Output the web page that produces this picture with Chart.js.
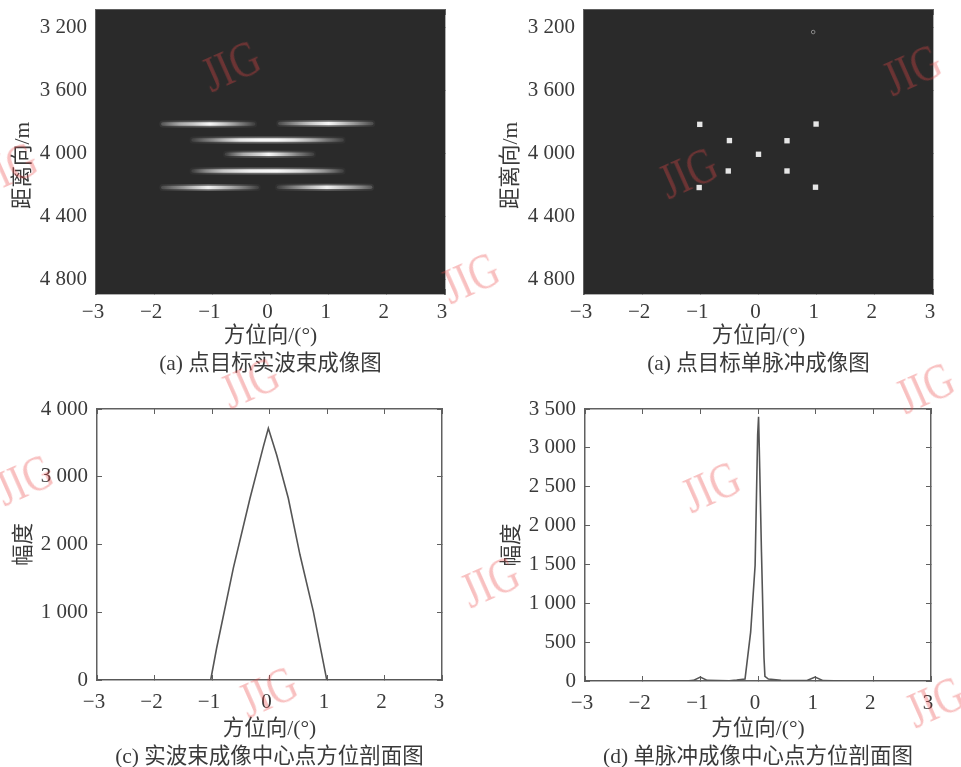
<!DOCTYPE html>
<html lang="zh">
<head>
<meta charset="utf-8">
<title>点目标成像图</title>
<script src="https://cdn.jsdelivr.net/npm/chart.js@4"></script>
<style>
html,body{margin:0;padding:0;background:#fff;width:961px;height:767px;overflow:hidden}
#page{position:relative;width:961px;height:767px;overflow:hidden;filter:blur(0.75px)}
canvas{position:absolute;display:block}
.wm{position:absolute;font:40px 'Liberation Serif',serif;color:rgba(235,70,70,.34);transform:translate(-50%,-50%) rotate(-24deg) scale(1,1.25);white-space:nowrap;line-height:1}
</style>
</head>
<body>
<div id="page">
<canvas id="a"></canvas><canvas id="b"></canvas><canvas id="c"></canvas><canvas id="d"></canvas>
</div>
<script>
// ---------- text ----------
const xTitle = '方位向/(°)';
const rangeTitle = '距离向/m     ';
const ampTitle = '幅度';
const captionA = '(a) 点目标实波束成像图';
const captionB = '(a) 点目标单脉冲成像图';
const captionC = '(c) 实波束成像中心点方位剖面图';
const captionD = '(d) 单脉冲成像中心点方位剖面图';
const watermarkText = 'JIG';

// ---------- ticks ----------
const azimuthTicks = [-3, -2, -1, 0, 1, 2, 3];
const rangeTicks = [3200, 3600, 4000, 4400, 4800];
const ampTicksC = [0, 1000, 2000, 3000, 4000];
const ampTicksD = [0, 500, 1000, 1500, 2000, 2500, 3000, 3500];

// ---------- panel (a): streaks, [azimuth], [relative brightness] ----------
const streak1LRange = 3815;
const streak1LX = [-1.85, -1.56, -1.33, -1.04, -0.75, -0.52, -0.29];
const streak1LV = [0.2, 0.55, 0.7, 1, 0.65, 0.35, 0.1];
const streak1RRange = 3812;
const streak1RX = [0.16, 0.45, 0.68, 1.0, 1.31, 1.54, 1.74];
const streak1RV = [0.15, 0.45, 0.7, 1, 0.6, 0.35, 0.15];
const streak2Range = 3917;
const streak2X = [-1.33, -0.985, -0.755, -0.52, -0.178, 0.11, 0.4, 0.68, 0.97, 1.23];
const streak2V = [0.1, 0.4, 0.65, 0.9, 1, 1, 0.85, 0.6, 0.3, 0.1];
const streak3Range = 4008;
const streak3X = [-0.755, -0.466, -0.178, -0.03, 0.23, 0.46, 0.72];
const streak3V = [0.1, 0.55, 0.8, 1, 0.65, 0.35, 0.1];
const streak4Range = 4114;
const streak4X = [-1.33, -1.1, -0.81, -0.35, 0.11, 0.51, 0.91, 1.23];
const streak4V = [0.1, 0.4, 0.7, 0.95, 1, 0.8, 0.45, 0.1];
const streak5LRange = 4219;
const streak5LX = [-1.85, -1.5, -1.07, -0.64, -0.23];
const streak5LV = [0.15, 0.45, 0.95, 0.5, 0.1];
const streak5RRange = 4217;
const streak5RX = [0.14, 0.51, 0.97, 1.38, 1.72];
const streak5RV = [0.1, 0.45, 0.95, 0.55, 0.2];

// ---------- panel (b): point targets ----------
const targetX = [-1.01, 0.99, -0.5, 0.49, 0, -0.52, 0.49, -1.02, 0.98];
const targetRange = [3818, 3816, 3921, 3922, 4008, 4114, 4114, 4219, 4217];
const ringX = [0.94];
const ringRange = [3232];

// ---------- panel (c): azimuth cut ----------
const cutCX = [-3, -2, -1.023, -0.919, -0.629, -0.339, -0.107, -0.02, 0.125, 0.327, 0.53, 0.762, 0.995, 2, 3];
const cutCY = [0, 0, 0, 472, 1651, 2683, 3445, 3715, 3322, 2683, 1848, 1012, 5, 0, 0];

// ---------- panel (d): azimuth cut ----------
const cutDX = [-3, -1.2, -1.12, -1.0, -0.88, -0.5, -0.37, -0.225, -0.127, -0.05, -0.006, 0.01, 0.03, 0.06, 0.104, 0.12, 0.18, 0.4, 0.85, 0.99, 1.13, 1.5, 3];
const cutDY = [0, 4, 8, 50, 8, 4, 12, 25, 631, 1490, 3165, 3401, 2735, 1662, 300, 60, 25, 9, 6, 50, 5, 0, 0];

// ---------- helpers ----------
const fontFamily = "'Liberation Serif','Noto Sans CJK SC',serif";
const inkColor = '#3a3a3a';
const axisColor = '#606060';
const darkBg = '#2a2a2a';

const zip = (xs, ys) => xs.map((x, i) => ({x, y: ys[i]}));
const fmt = v => {
  const a = Math.abs(v);
  const s = a >= 1000 ? Math.floor(a / 1000) + ' ' + String(a % 1000).padStart(3, '0') : String(a);
  return (v < 0 ? '\u2212' : '') + s;
};
const noOverhang = s => { s.paddingLeft = s.paddingRight = s.paddingTop = s.paddingBottom = 0; };

function axis(ticks, min, max, extra) {
  return Object.assign({
    type: 'linear', min, max,
    afterBuildTicks: s => { s.ticks = ticks.map(value => ({value})); },
    border: {display: true, color: axisColor, width: 1.5},
    grid: {drawOnChartArea: false, color: axisColor, lineWidth: 1, tickLength: -5}
  }, extra);
}

function panelOptions(cfg) {
  const mirrorTicks = {display: false};
  return {
    responsive: false,
    animation: false,
    events: [],
    layout: {autoPadding: false, padding: {left: 9, right: cfg.padRight, top: cfg.padTop, bottom: 0}},
    plugins: {legend: {display: false}, tooltip: {enabled: false}, title: {display: false}},
    scales: {
      x: axis(azimuthTicks, -3, 3, {
        position: 'bottom',
        afterFit: s => { s.height = cfg.xHeight; noOverhang(s); },
        ticks: {color: inkColor, autoSkip: false, maxRotation: 0, minRotation: 0, padding: cfg.xPad, labelOffset: -3,
                font: {family: fontFamily, size: 21}, callback: fmt},
        title: {display: true, text: [xTitle, cfg.caption], color: inkColor, padding: 0,
                font: {family: fontFamily, size: 21.5, lineHeight: 1.3}}
      }),
      x2: axis(azimuthTicks, -3, 3, {position: 'top', afterFit: s => { s.height = 0; noOverhang(s); }, ticks: mirrorTicks}),
      y: axis(cfg.yTicks, cfg.yMin, cfg.yMax, {
        position: 'left',
        reverse: cfg.reverse,
        afterFit: s => { s.width = 87; noOverhang(s); },
        ticks: {color: inkColor, autoSkip: false, padding: 14, font: {family: fontFamily, size: 21}, callback: fmt},
        title: {display: true, text: cfg.yTitle, color: inkColor, padding: 0,
                font: {family: fontFamily, size: 21.5, lineHeight: 1.3}}
      }),
      y2: axis(cfg.yTicks, cfg.yMin, cfg.yMax, {position: 'right', reverse: cfg.reverse, afterFit: s => { s.width = 0; noOverhang(s); }, ticks: mirrorTicks})
    }
  };
}

const darkPlot = {
  id: 'darkPlot',
  beforeDatasetsDraw(chart) {
    const {ctx, chartArea: a} = chart;
    ctx.save();
    ctx.fillStyle = darkBg;
    ctx.fillRect(a.left, a.top, a.right - a.left, a.bottom - a.top);
    ctx.restore();
  }
};

function streakColor(xs, vs, gain) {
  return ctx => {
    const chart = ctx.chart;
    if (!chart.chartArea) return '#fff';
    const sx = chart.scales.x;
    const g = chart.ctx.createLinearGradient(sx.getPixelForValue(xs[0]), 0, sx.getPixelForValue(xs[xs.length - 1]), 0);
    xs.forEach((x, i) => {
      g.addColorStop((x - xs[0]) / (xs[xs.length - 1] - xs[0]), `rgba(255,255,255,${(vs[i] * gain).toFixed(3)})`);
    });
    return g;
  };
}

function streakSets(xs, vs, range) {
  const data = xs.map(x => ({x, y: range}));
  const base = {data, showLine: true, pointRadius: 0, borderCapStyle: 'round', tension: 0};
  return [
    Object.assign({}, base, {borderWidth: 7, borderColor: streakColor(xs, vs, 0.3)}),
    Object.assign({}, base, {borderWidth: 3.5, borderColor: streakColor(xs, vs, 0.95)})
  ];
}

function place(id, left, top, w, h) {
  const el = document.getElementById(id);
  el.width = w; el.height = h;
  el.style.left = left + 'px'; el.style.top = top + 'px';
  el.style.width = w + 'px'; el.style.height = h + 'px';
  return el;
}

// ---------- panel (a) ----------
new Chart(place('a', 0, 0, 480, 378), {
  type: 'scatter',
  data: {datasets: [
    ...streakSets(streak1LX, streak1LV, streak1LRange),
    ...streakSets(streak1RX, streak1RV, streak1RRange),
    ...streakSets(streak2X, streak2V, streak2Range),
    ...streakSets(streak3X, streak3V, streak3Range),
    ...streakSets(streak4X, streak4V, streak4Range),
    ...streakSets(streak5LX, streak5LV, streak5LRange),
    ...streakSets(streak5RX, streak5RV, streak5RRange)
  ]},
  options: panelOptions({caption: captionA, yTitle: rangeTitle, yTicks: rangeTicks, yMin: 3092, yMax: 4895, reverse: true,
    padRight: 35, padTop: 10, xHeight: 84, xPad: 11}),
  plugins: [darkPlot]
});

// ---------- panel (b) ----------
new Chart(place('b', 488, 0, 473, 378), {
  type: 'scatter',
  data: {datasets: [
    {data: zip(targetX, targetRange), pointStyle: 'rect', pointRadius: 3.8, pointBackgroundColor: '#e6e6e6', pointBorderWidth: 0},
    {data: zip(ringX, ringRange), pointStyle: 'circle', pointRadius: 1.8, pointBackgroundColor: 'rgba(0,0,0,0)', pointBorderColor: '#8a8a8a', pointBorderWidth: 1}
  ]},
  options: panelOptions({caption: captionB, yTitle: rangeTitle, yTicks: rangeTicks, yMin: 3092, yMax: 4895, reverse: true,
    padRight: 28, padTop: 10, xHeight: 84, xPad: 11}),
  plugins: [darkPlot]
});

// ---------- panel (c) ----------
new Chart(place('c', 1, 385, 480, 386), {
  type: 'scatter',
  data: {datasets: [{data: zip(cutCX, cutCY), showLine: true, pointRadius: 0, borderColor: '#555', borderWidth: 1.6, tension: 0}]},
  options: panelOptions({caption: captionC, yTitle: ampTitle, yTicks: ampTicksC, yMin: 0, yMax: 4000, reverse: false,
    padRight: 39, padTop: 24, xHeight: 91, xPad: 15})
});

// ---------- panel (d) ----------
new Chart(place('d', 489, 385, 472, 386), {
  type: 'scatter',
  data: {datasets: [{data: zip(cutDX, cutDY), showLine: true, pointRadius: 0, borderColor: '#555', borderWidth: 1.6, tension: 0}]},
  options: panelOptions({caption: captionD, yTitle: ampTitle, yTicks: ampTicksD, yMin: 0, yMax: 3500, reverse: false,
    padRight: 30, padTop: 24, xHeight: 90, xPad: 15})
});

// ---------- watermarks ----------
const watermarkCentres = [[231,66],[8,168],[470,278],[912,70],[688,173],[250,383],[925,388],[24,480],[711,487],[490,582],[268,692],[935,702]];
const page = document.getElementById('page');
watermarkCentres.forEach(([l, t]) => {
  const s = document.createElement('span');
  s.className = 'wm';
  s.textContent = watermarkText;
  s.style.left = l + 'px';
  s.style.top = t + 'px';
  page.appendChild(s);
});
</script>
</body>
</html>
